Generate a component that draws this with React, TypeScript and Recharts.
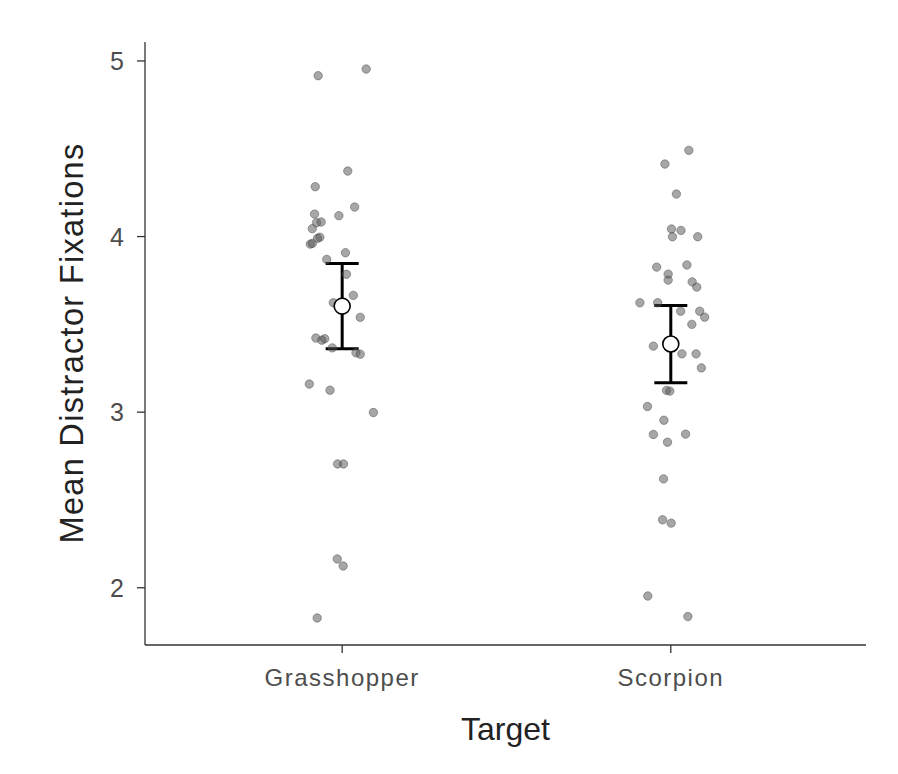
import React from "react";
import { ComposedChart, Scatter, XAxis, YAxis, ErrorBar } from "recharts";

const categories = ["Grasshopper", "Scorpion"];

// per-subject means, with the horizontal jitter used in the plot
const grasshopperValues = [
  4.916, 4.954, 4.373, 4.284, 4.168, 4.119, 4.128, 4.079, 4.083, 4.045, 3.996, 3.99,
  3.957, 3.961, 3.87, 3.908, 3.785, 3.665, 3.623, 3.54, 3.422, 3.41, 3.418, 3.366,
  3.338, 3.33, 3.16, 3.125, 2.998, 2.705, 2.705, 2.164, 2.124, 1.828,
];
const grasshopperJitter = [
  -0.073, 0.073, 0.017, -0.082, 0.038, -0.01, -0.084, -0.078, -0.064, -0.091, -0.068,
  -0.075, -0.097, -0.091, -0.047, 0.01, 0.013, 0.034, -0.027, 0.055, -0.08, -0.062,
  -0.053, -0.03, 0.042, 0.055, -0.1, -0.037, 0.095, -0.014, 0.004, -0.015, 0.003, -0.076,
];

const scorpionValues = [
  4.491, 4.413, 4.242, 4.043, 3.999, 4.035, 3.999, 3.826, 3.838, 3.786, 3.752, 3.742,
  3.712, 3.623, 3.623, 3.575, 3.575, 3.541, 3.5, 3.376, 3.332, 3.332, 3.252, 3.124,
  3.12, 3.032, 2.954, 2.873, 2.875, 2.829, 2.62, 2.387, 2.368, 1.953, 1.836,
];
const scorpionJitter = [
  0.055, -0.018, 0.017, 0.002, 0.005, 0.031, 0.082, -0.043, 0.049, -0.008, -0.008, 0.065,
  0.079, -0.094, -0.04, 0.03, 0.088, 0.103, 0.064, -0.053, 0.034, 0.077, 0.093, -0.013,
  -0.003, -0.071, -0.021, -0.053, 0.045, -0.01, -0.022, -0.025, 0.001, -0.07, 0.052,
];

const groupMeans = [3.604, 3.388];
const groupSE = [0.243, 0.22];

const yTicks = [2, 3, 4, 5];

const toPoints = (values: number[], jitter: number[], pos: number) =>
  values.map((v, i) => ({ x: pos + jitter[i], y: v }));

const grasshopperPoints = toPoints(grasshopperValues, grasshopperJitter, 1);
const scorpionPoints = toPoints(scorpionValues, scorpionJitter, 2);
const meanPoints = categories.map((c, i) => ({ x: i + 1, y: groupMeans[i], se: groupSE[i] }));

const FONT = '"Liberation Sans", Arial, Helvetica, sans-serif';

const Dot = (props: any) => (
  <circle
    cx={props.cx}
    cy={props.cy}
    r={4.2}
    fill="#505050"
    fillOpacity={0.5}
    stroke="#505050"
    strokeOpacity={0.5}
    strokeWidth={1}
  />
);

const MeanDot = (props: any) => (
  <circle cx={props.cx} cy={props.cy} r={8} fill="#fff" stroke="#000" strokeWidth={1.6} />
);

const XTick = (props: any) => {
  const { x, y, payload } = props;
  return (
    <text
      x={x}
      y={y + 31}
      textAnchor="middle"
      fill="#4d4d4d"
      fontSize={24}
      fontFamily={FONT}
      letterSpacing={1.5}
    >
      {categories[payload.value - 1]}
    </text>
  );
};

const YTick = (props: any) => {
  const { x, y, payload } = props;
  return (
    <text
      x={x - 11}
      y={y}
      dy={9}
      textAnchor="end"
      fill="#4d4d4d"
      fontSize={25}
      fontFamily={FONT}
    >
      {payload.value}
    </text>
  );
};

export default function App() {
  return (
    <div style={{ position: "absolute", left: 0, top: 0, width: 898, height: 774, background: "#fff" }}>
      <ComposedChart
        width={898}
        height={774}
        margin={{ top: 42, right: 32, bottom: 69, left: 0 }}
      >
        <XAxis
          type="number"
          dataKey="x"
          domain={[0.4, 2.594]}
          ticks={[1, 2]}
          allowDataOverflow
          height={60}
          tickSize={8}
          stroke="#333"
          strokeWidth={1.3}
          tick={<XTick />}
        />
        <YAxis
          type="number"
          dataKey="y"
          domain={[1.674, 5.108]}
          ticks={yTicks}
          allowDataOverflow
          width={145}
          tickSize={8}
          stroke="#333"
          strokeWidth={1.3}
          tick={<YTick />}
        />
        <Scatter data={grasshopperPoints} shape={<Dot />} isAnimationActive={false} />
        <Scatter data={scorpionPoints} shape={<Dot />} isAnimationActive={false} />
        <Scatter data={meanPoints} shape={<MeanDot />} isAnimationActive={false}>
          <ErrorBar dataKey="se" direction="y" width={16.5} strokeWidth={3} stroke="#000" />
        </Scatter>
        <text
          x={505.5}
          y={740}
          textAnchor="middle"
          fontSize={32}
          fontFamily={FONT}
          fill="#222"
        >
          Target
        </text>
        <text
          x={83}
          y={343}
          textAnchor="middle"
          fontSize={32.5}
          fontFamily={FONT}
          fill="#222"
          letterSpacing={1.3}
          transform="rotate(-90 83 343)"
        >
          Mean Distractor Fixations
        </text>
      </ComposedChart>
    </div>
  );
}
